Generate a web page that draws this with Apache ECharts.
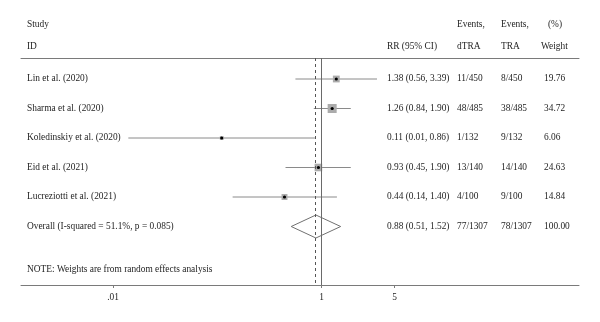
<!DOCTYPE html>
<html>
<head>
<meta charset="utf-8">
<script src="https://cdn.jsdelivr.net/npm/echarts@6/dist/echarts.min.js"></script>
<style>
html, body { margin: 0; padding: 0; background: #fff; }
#main { width: 600px; height: 322px; }
</style>
</head>
<body>
<div id="main"></div>
<script>
// data
var studies = ['Lin et al. (2020)', 'Sharma et al. (2020)', 'Koledinskiy et al. (2020)', 'Eid et al. (2021)', 'Lucreziotti et al. (2021)'];
var rr = [1.38, 1.26, 0.11, 0.93, 0.44];
var lower = [0.56, 0.84, 0.014, 0.45, 0.14];
var upper = [3.39, 1.90, 0.86, 1.90, 1.40];
var eventsD = ['11/450', '48/485', '1/132', '13/140', '4/100'];
var eventsT = ['8/450', '38/485', '9/132', '14/140', '9/100'];
var weights = [19.76, 34.72, 6.06, 24.63, 14.84];

var overallLabel = 'Overall (I-squared = 51.1%, p = 0.085)';
var overallRR = 0.88;
var overallLower = 0.51;
var overallUpper = 1.52;
var overallD = '77/1307';
var overallT = '78/1307';
var overallWeight = 100.00;

var tickValues = [0.01, 1, 5];
var tickLabels = ['.01', '1', '5'];

(function () {
    var chart = echarts.init(document.getElementById('main'));
    var FONT = '"Liberation Serif", "Times New Roman", serif';
    var FS = 9.4;
    var TXT = '#1e1e1e';
    var lg = function (v) { return Math.log10(v); };
    var ci = function (a, b, c) { return a.toFixed(2) + ' (' + b.toFixed(2) + ', ' + c.toFixed(2) + ')'; };

    // 表格行：研究 + 合并
    var tableRows = studies.map(function (s, i) {
        return [i, s, ci(rr[i], lower[i], upper[i]), eventsD[i], eventsT[i], weights[i].toFixed(2)];
    });
    tableRows.push([studies.length, overallLabel, ci(overallRR, overallLower, overallUpper), overallD, overallT, overallWeight.toFixed(2)]);

    var ciData = studies.map(function (s, i) {
        return [i, lg(rr[i]), lg(lower[i]), lg(upper[i]), weights[i]];
    });

    var xMin = -2.883, xMax = 2.467;

    var option = {
        animation: false,
        grid: { left: 21, right: 21, top: 58, bottom: 37 },
        xAxis: [{
            type: 'value', min: xMin, max: xMax, position: 'bottom',
            axisLine: { onZero: false, lineStyle: { color: '#7a7a7a', width: 1 } },
            splitLine: { show: false },
            axisTick: { customValues: tickValues.map(lg), length: 3, lineStyle: { color: '#7a7a7a' } },
            axisLabel: {
                customValues: tickValues.map(lg),
                margin: 8,
                color: TXT, fontFamily: FONT, fontSize: FS,
                formatter: function (v) {
                    for (var i = 0; i < tickValues.length; i++) {
                        if (Math.abs(lg(tickValues[i]) - v) < 1e-6) return tickLabels[i];
                    }
                    return '';
                }
            }
        }, {
            type: 'value', min: xMin, max: xMax, position: 'top',
            axisLine: { show: true, onZero: false, lineStyle: { color: '#7a7a7a', width: 1 } },
            axisTick: { show: false }, axisLabel: { show: false }, splitLine: { show: false }
        }],
        yAxis: { type: 'value', inverse: true, min: -0.712, max: 6.983, show: false },
        graphic: [
            { type: 'text', left: 27, top: 20, style: { text: 'Study', font: FS + 'px ' + FONT, fill: TXT } },
            { type: 'text', left: 27, top: 42, style: { text: 'ID', font: FS + 'px ' + FONT, fill: TXT } },
            { type: 'text', left: 387, top: 42, style: { text: 'RR (95% CI)', font: FS + 'px ' + FONT, fill: TXT } },
            { type: 'text', left: 457, top: 20, style: { text: 'Events,', font: FS + 'px ' + FONT, fill: TXT } },
            { type: 'text', left: 457, top: 42, style: { text: 'dTRA', font: FS + 'px ' + FONT, fill: TXT } },
            { type: 'text', left: 501, top: 20, style: { text: 'Events,', font: FS + 'px ' + FONT, fill: TXT } },
            { type: 'text', left: 501, top: 42, style: { text: 'TRA', font: FS + 'px ' + FONT, fill: TXT } },
            { type: 'text', left: 548, top: 20, style: { text: '(%)', font: FS + 'px ' + FONT, fill: TXT } },
            { type: 'text', left: 541, top: 42, style: { text: 'Weight', font: FS + 'px ' + FONT, fill: TXT } },
            { type: 'text', left: 27, top: 265, style: { text: 'NOTE: Weights are from random effects analysis', font: FS + 'px ' + FONT, fill: TXT } }
        ],
        series: [{
            // 置信区间 + 权重方块
            type: 'custom',
            data: ciData,
            encode: { x: [1, 2, 3], y: 0 },
            renderItem: function (params, api) {
                var y = api.value(0);
                var p = api.coord([api.value(1), y]);
                var lo = api.coord([api.value(2), y]);
                var hi = api.coord([api.value(3), y]);
                var side = Math.sqrt(api.value(4)) * 1.53;
                return {
                    type: 'group',
                    children: [
                        { type: 'line', shape: { x1: lo[0], y1: lo[1], x2: hi[0], y2: hi[1] }, style: { stroke: '#8a8a8a', lineWidth: 1 } },
                        { type: 'rect', shape: { x: p[0] - side / 2, y: p[1] - side / 2, width: side, height: side }, style: { fill: '#ababab' } },
                        { type: 'circle', shape: { cx: p[0], cy: p[1], r: 1.6 }, style: { fill: '#000' } }
                    ]
                };
            },
            markLine: {
                silent: true,
                symbol: 'none',
                label: { show: false },
                data: [
                    { xAxis: 0, lineStyle: { color: '#6a6a6a', type: 'solid', width: 1 } },
                    { xAxis: lg(overallRR), lineStyle: { color: '#555', type: [3, 3], width: 1 } }
                ]
            }
        }, {
            // 合并效应菱形
            type: 'custom',
            data: [[studies.length, lg(overallRR), lg(overallLower), lg(overallUpper)]],
            encode: { x: [1, 2, 3], y: 0 },
            renderItem: function (params, api) {
                var y = api.value(0);
                var c = api.coord([api.value(1), y]);
                var lo = api.coord([api.value(2), y]);
                var hi = api.coord([api.value(3), y]);
                var h = 11.5;
                return {
                    type: 'polygon',
                    shape: { points: [[lo[0], c[1]], [c[0], c[1] - h], [hi[0], c[1]], [c[0], c[1] + h]] },
                    style: { fill: 'none', stroke: '#707070', lineWidth: 1 }
                };
            }
        }, {
            // 表格文字
            type: 'custom',
            data: tableRows,
            encode: { y: 0 },
            renderItem: function (params, api) {
                var row = tableRows[params.dataIndex];
                var y = api.coord([0, row[0]])[1];
                var cols = [27, 387, 457, 501, 544];
                return {
                    type: 'group',
                    children: cols.map(function (x, k) {
                        return {
                            type: 'text',
                            x: x, y: y,
                            style: { text: row[k + 1], font: FS + 'px ' + FONT, fill: TXT, verticalAlign: 'middle', align: 'left' }
                        };
                    })
                };
            }
        }]
    };

    chart.setOption(option);

    window.onresize = function () {
        chart.resize();
    };
})();
</script>
</body>
</html>
